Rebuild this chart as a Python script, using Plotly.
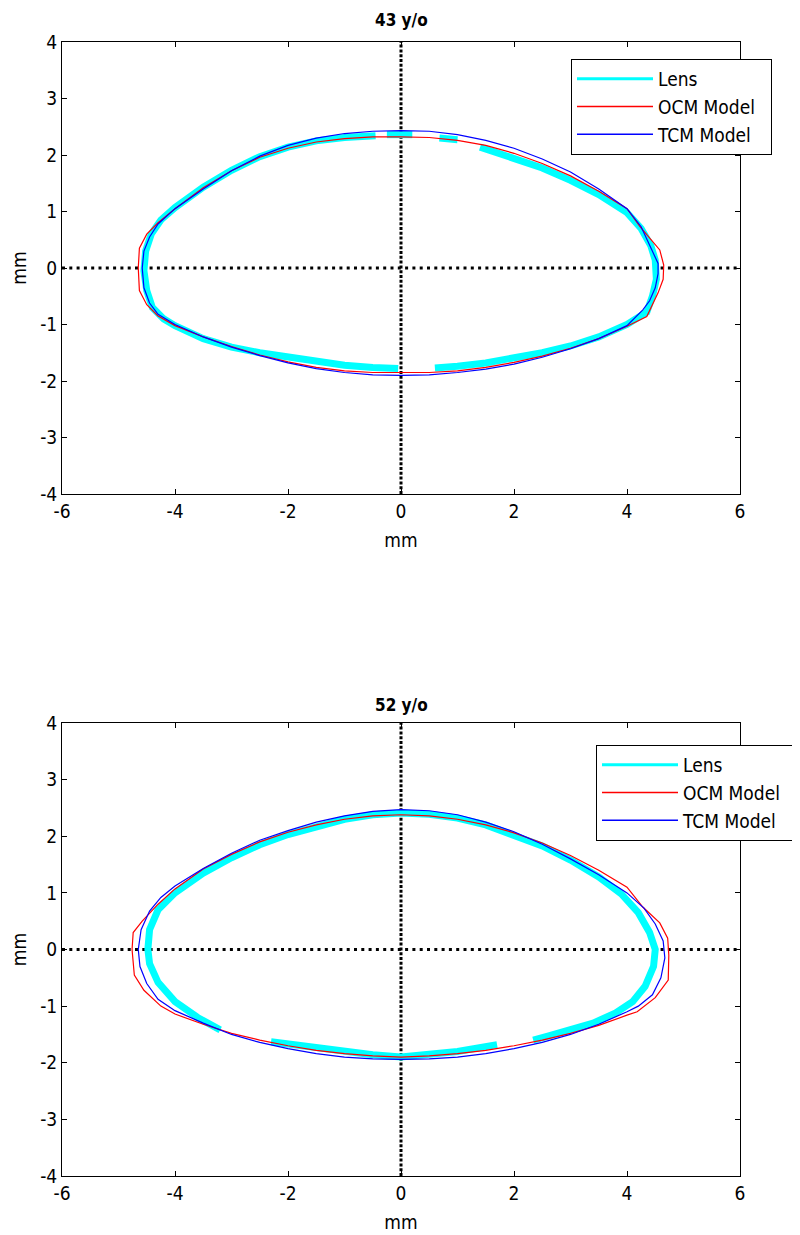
import plotly.graph_objects as go

# ---- 43 y/o ----
tcm43_x = [-4.58, -4.55, -4.45, -4.3, -4.0, -3.5, -3.0, -2.5, -2.0, -1.5, -1.0, -0.5, 0, 0.5, 1.0, 1.5, 2.0, 2.5, 3.0, 3.5, 4.0, 4.25, 4.44, 4.55,
           4.55, 4.5, 4.4, 4.28, 4.0, 3.5, 3.0, 2.5, 2.0, 1.5, 1.0, 0.5, 0, -0.5, -1.0, -1.5, -2.0, -2.5, -3.0, -3.5, -4.0, -4.3, -4.45, -4.55, -4.58]
tcm43_y = [0, 0.3, 0.55, 0.78, 1.05, 1.4, 1.72, 1.98, 2.17, 2.3, 2.38, 2.42, 2.43, 2.42, 2.36, 2.26, 2.12, 1.93, 1.7, 1.4, 1.05, 0.73, 0.32, 0.08,
           -0.1, -0.35, -0.58, -0.74, -1.02, -1.25, -1.43, -1.58, -1.7, -1.79, -1.85, -1.89, -1.9, -1.89, -1.85, -1.78, -1.68, -1.55, -1.4, -1.22, -1.0, -0.82, -0.62, -0.35, 0]
ocm43_x = [-4.65, -4.63, -4.5, -4.3, -4.0, -3.5, -3.0, -2.5, -2.0, -1.5, -1.0, -0.5, 0, 0.5, 1.0, 1.5, 2.0, 2.5, 3.0, 3.5, 4.0, 4.23, 4.58, 4.65,
           4.64, 4.55, 4.35, 4.0, 3.5, 3.0, 2.5, 2.0, 1.5, 1.0, 0.5, 0, -0.5, -1.0, -1.5, -2.0, -2.5, -3.0, -3.5, -4.0, -4.3, -4.5, -4.63, -4.65]
ocm43_y = [0, 0.35, 0.6, 0.8, 1.05, 1.42, 1.72, 1.96, 2.12, 2.23, 2.29, 2.32, 2.32, 2.31, 2.26, 2.17, 2.03, 1.85, 1.63, 1.36, 1.05, 0.73, 0.32, 0.05,
           -0.2, -0.44, -0.86, -1.03, -1.25, -1.42, -1.56, -1.67, -1.76, -1.82, -1.85, -1.85, -1.85, -1.82, -1.76, -1.66, -1.54, -1.39, -1.22, -1.02, -0.85, -0.65, -0.4, 0]
# lens segments (None = gap)
lens43_x = [-0.45, -1.0, -1.5, -2.0, -2.5, -3.0, -3.5, -4.0, -4.25, -4.42, -4.52, -4.55, -4.5, -4.4, -4.2, -4.0, -3.5, -3.0, -2.5, -2.0, -1.5, -1.0, -0.5, -0.05, None,
            -0.25, 0.0, 0.2, None,
            0.68, 1.0, None,
            1.4, 2.0, 2.5, 3.0, 3.5, 4.0, 4.25, 4.42, 4.5, 4.52, 4.45, 4.35, 4.0, 3.5, 3.0, 2.5, 2.0, 1.5, 1.0, 0.6]
lens43_y = [2.34, 2.31, 2.25, 2.14, 1.97, 1.73, 1.43, 1.07, 0.85, 0.6, 0.3, -0.05, -0.4, -0.7, -0.9, -1.02, -1.25, -1.4, -1.5, -1.58, -1.65, -1.72, -1.76, -1.78, None,
            2.36, 2.37, 2.36, None,
            2.3, 2.27, None,
            2.14, 1.95, 1.77, 1.55, 1.3, 0.98, 0.7, 0.4, 0.14, -0.2, -0.5, -0.78, -1.0, -1.22, -1.38, -1.5, -1.6, -1.68, -1.74, -1.77]

# ---- 52 y/o ----
tcm52_x = [-4.65, -4.6, -4.45, -4.25, -4.0, -3.5, -3.0, -2.5, -2.0, -1.5, -1.0, -0.5, 0, 0.5, 1.0, 1.5, 2.0, 2.5, 3.0, 3.5, 4.0, 4.3, 4.5, 4.64,
           4.67, 4.6, 4.45, 4.2, 4.0, 3.5, 3.0, 2.5, 2.0, 1.5, 1.0, 0.5, 0, -0.5, -1.0, -1.5, -2.0, -2.5, -3.0, -3.5, -4.0, -4.3, -4.5, -4.62, -4.65]
tcm52_y = [0, 0.35, 0.68, 0.92, 1.12, 1.43, 1.7, 1.93, 2.1, 2.25, 2.36, 2.44, 2.47, 2.45, 2.38, 2.25, 2.08, 1.86, 1.6, 1.32, 1.0, 0.73, 0.45, 0.15,
           -0.15, -0.5, -0.8, -1.0, -1.1, -1.32, -1.5, -1.64, -1.75, -1.84, -1.9, -1.93, -1.94, -1.93, -1.9, -1.84, -1.75, -1.64, -1.5, -1.3, -1.08, -0.88, -0.6, -0.3, 0]
ocm52_x = [-4.76, -4.74, -4.58, -4.3, -4.0, -3.5, -3.0, -2.5, -2.0, -1.5, -1.0, -0.5, 0, 0.5, 1.0, 1.5, 2.0, 2.5, 3.0, 3.5, 4.0, 4.28, 4.58, 4.72,
           4.74, 4.73, 4.5, 4.18, 4.0, 3.5, 3.0, 2.5, 2.0, 1.5, 1.0, 0.5, 0, -0.5, -1.0, -1.5, -2.0, -2.5, -3.0, -3.5, -4.0, -4.25, -4.55, -4.72, -4.76]
ocm52_y = [0, 0.3, 0.5, 0.8, 1.07, 1.42, 1.68, 1.9, 2.07, 2.2, 2.3, 2.36, 2.38, 2.36, 2.3, 2.2, 2.06, 1.88, 1.66, 1.4, 1.1, 0.75, 0.47, 0.2,
           -0.1, -0.54, -0.85, -1.1, -1.16, -1.34, -1.48, -1.6, -1.7, -1.78, -1.84, -1.88, -1.9, -1.88, -1.84, -1.78, -1.7, -1.6, -1.48, -1.32, -1.14, -1.0, -0.72, -0.45, 0]
lens52_x = [-3.2, -3.6, -4.0, -4.3, -4.45, -4.48, -4.45, -4.3, -4.0, -3.5, -3.0, -2.5, -2.0, -1.5, -1.0, -0.5, 0, 0.5, 1.0, 1.5, 2.0, 2.5, 3.0, 3.5,
            3.9, 4.2, 4.4, 4.5, 4.47, 4.32, 4.1, 3.8, 3.4, 3.0, 2.6, 2.34, None,
            -2.3, -1.5, -1.0, -0.5, 0, 0.5, 1.0, 1.7]
lens52_y = [-1.42, -1.2, -0.92, -0.58, -0.25, 0, 0.35, 0.7, 1.0, 1.35, 1.62, 1.85, 2.03, 2.18, 2.3, 2.38, 2.41, 2.39, 2.32, 2.2, 2.03, 1.83, 1.58, 1.28,
            0.98, 0.65, 0.3, 0, -0.3, -0.65, -0.92, -1.12, -1.3, -1.43, -1.53, -1.6, None,
            -1.63, -1.74, -1.8, -1.86, -1.9, -1.86, -1.8, -1.68]

x_ticks = [-6, -4, -2, 0, 2, 4, 6]
x_labels = ["-6", "-4", "-2", "0", "2", "4", "6"]
y_ticks = [-4, -3, -2, -1, 0, 1, 2, 3, 4]
y_labels = ["-4", "-3", "-2", "-1", "0", "1", "2", "3", "4"]
titles = ["43 y/o", "52 y/o"]
legend_names = ["Lens", "OCM Model", "TCM Model"]

FONT = "DejaVu Sans Condensed, Liberation Sans Narrow, Liberation Sans, sans-serif"

# the page adds an 8px body margin, so the figure is a bit smaller and offset
W, H, OFF = 792, 1227, 8


def px_x(p):
    return (p - OFF) / W


def px_y(p):
    return 1 - (p - OFF) / H


fig = go.Figure()

panels = [
    ("", "", "legend", lens43_x, lens43_y, ocm43_x, ocm43_y, tcm43_x, tcm43_y),
    ("2", "2", "legend2", lens52_x, lens52_y, ocm52_x, ocm52_y, tcm52_x, tcm52_y),
]

for xa, ya, leg, lx, ly, ox, oy, tx, ty in panels:
    xr = "x" + xa
    yr = "y" + ya
    # dotted cross through origin
    fig.add_trace(go.Scatter(x=[-6, 6], y=[0, 0], mode="lines", xaxis=xr, yaxis=yr,
                             line=dict(color="black", width=3, dash="3px,4.3px"),
                             showlegend=False, hoverinfo="skip"))
    fig.add_trace(go.Scatter(x=[0, 0], y=[-4, 4], mode="lines", xaxis=xr, yaxis=yr,
                             line=dict(color="black", width=3, dash="3px,1.8px"),
                             showlegend=False, hoverinfo="skip"))
    fig.add_trace(go.Scatter(x=lx, y=ly, mode="lines", xaxis=xr, yaxis=yr,
                             line=dict(color="#00FFFF", width=7), connectgaps=False,
                             showlegend=False))
    fig.add_trace(go.Scatter(x=ox, y=oy, mode="lines", xaxis=xr, yaxis=yr,
                             line=dict(color="red", width=1.2), showlegend=False))
    fig.add_trace(go.Scatter(x=tx, y=ty, mode="lines", xaxis=xr, yaxis=yr,
                             line=dict(color="blue", width=1.2), showlegend=False))
    # legend entries (a bit of padding after the text, like the matlab box)
    for name, col, w in zip(legend_names, ["#00FFFF", "red", "blue"], [3, 1.5, 1.5]):
        fig.add_trace(go.Scatter(x=[None], y=[None], mode="lines", xaxis=xr, yaxis=yr,
                                 name=name + "\u00a0\u00a0", line=dict(color=col, width=w), legend=leg))

axis_common = dict(showgrid=False, zeroline=False, showline=True, linecolor="black", linewidth=1,
                   mirror="ticks", ticks="inside", ticklen=5, tickcolor="black", automargin=False,
                   tickfont=dict(family=FONT, size=19, color="black"))
title_font = dict(family=FONT, size=19, color="black")
legend_common = dict(xanchor="left", yanchor="top", bgcolor="white", bordercolor="black", borderwidth=1,
                     itemwidth=76, font=dict(family=FONT, size=19, color="black"), tracegroupgap=0)

fig.update_layout(
    width=W, height=H,
    margin=dict(l=0, r=0, t=0, b=0),
    paper_bgcolor="white", plot_bgcolor="white",
    xaxis=dict(domain=[px_x(62), px_x(740)], range=[-6, 6], tickvals=x_ticks, ticktext=x_labels, anchor="y",
               title=dict(text="mm", font=title_font, standoff=12), **axis_common),
    yaxis=dict(domain=[px_y(494), px_y(42)], range=[-4, 4], tickvals=y_ticks, ticktext=y_labels, anchor="x",
               title=dict(text="mm", font=title_font, standoff=16), **axis_common),
    xaxis2=dict(domain=[px_x(62), px_x(740)], range=[-6, 6], tickvals=x_ticks, ticktext=x_labels, anchor="y2",
                title=dict(text="mm", font=title_font, standoff=12), **axis_common),
    yaxis2=dict(domain=[px_y(1176), px_y(723)], range=[-4, 4], tickvals=y_ticks, ticktext=y_labels, anchor="x2",
                title=dict(text="mm", font=title_font, standoff=16), **axis_common),
    legend=dict(x=px_x(571), y=px_y(59), **legend_common),
    legend2=dict(x=px_x(596), y=px_y(745), **legend_common),
    annotations=[
        dict(text="<b>" + titles[0] + "</b>", x=px_x(401), xref="paper", xanchor="center",
             y=px_y(20), yref="paper", yanchor="middle", showarrow=False,
             font=dict(family=FONT, size=17, color="black")),
        dict(text="<b>" + titles[1] + "</b>", x=px_x(401), xref="paper", xanchor="center",
             y=px_y(705), yref="paper", yanchor="middle", showarrow=False,
             font=dict(family=FONT, size=17, color="black")),
    ],
)

fig.write_html("out.html")
